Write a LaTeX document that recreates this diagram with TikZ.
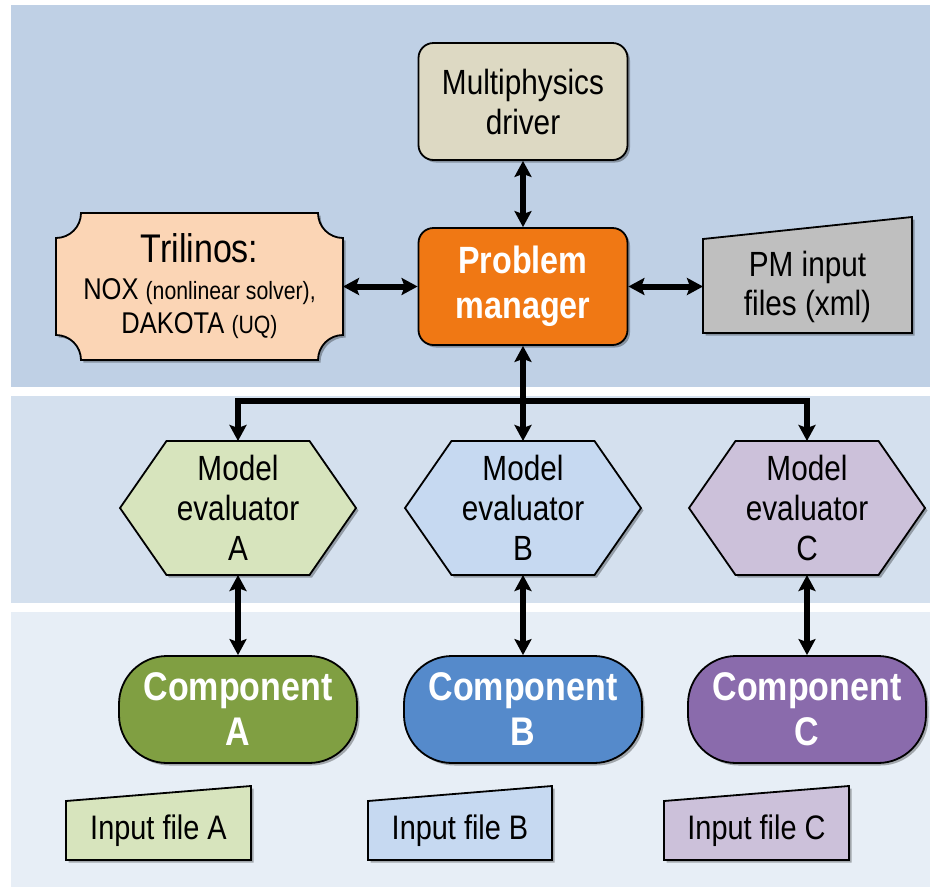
\documentclass[tikz,border=0pt]{standalone}
\usepackage{fontspec}
\setmainfont{Liberation Sans}[FakeStretch=0.85]
\usetikzlibrary{shadows,arrows.meta,calc}
\definecolor{bandA}{RGB}{191,208,229}
\definecolor{bandB}{RGB}{212,224,238}
\definecolor{bandC}{RGB}{231,238,246}
\definecolor{mdcol}{RGB}{221,217,195}
\definecolor{pmcol}{RGB}{240,120,20}
\definecolor{tricol}{RGB}{251,213,181}
\definecolor{pmincol}{RGB}{191,191,191}
\definecolor{lgreen}{RGB}{215,228,189}
\definecolor{lblue}{RGB}{198,217,241}
\definecolor{lpurple}{RGB}{204,193,218}
\definecolor{dgreen}{RGB}{128,159,66}
\definecolor{dblue}{RGB}{85,138,203}
\definecolor{dpurple}{RGB}{138,107,172}
\newcommand\hexpoly[3]{%
  \path[fill=#3, draw=black, line width=1.8pt, myshadow]
    (#1-118,#2) -- (#1-71.5,#2-67) -- (#1+71.5,#2-67) -- (#1+118,#2)
    -- (#1+71.5,#2+67) -- (#1-71.5,#2+67) -- cycle;}
\newcommand\infile[3]{%
  \path[fill=#3, draw=black, line width=1.8pt, myshadow]
    (#1,801) -- (#2,786) -- (#2,860) -- (#1,860) -- cycle;}
\begin{document}
\begin{tikzpicture}[x=1pt,y=-1pt,
  myshadow/.style={drop shadow={shadow xshift=2.5pt,shadow yshift=-2.5pt,opacity=0.3,fill=black}},
  box/.style={draw=black, line width=1.8pt, rounded corners=15pt, minimum width=209pt,
    minimum height=117pt, align=center, inner sep=0pt, myshadow},
  plain/.style={align=center, inner sep=0pt, outer sep=0pt},
  hextext/.style={plain, minimum width=236pt, minimum height=134pt, font=\fontsize{35}{40}\selectfont},
  comp/.style={draw=black, line width=1.8pt, rounded corners=48pt, minimum width=238pt,
    minimum height=107pt, align=center, inner sep=0pt, text=white,
    font=\fontsize{40}{45}\selectfont\bfseries, myshadow},
  filetext/.style={plain, minimum height=59pt, font=\fontsize{34}{40}\selectfont},
  tip/.tip={Stealth[length=16pt,width=17pt,inset=3pt]},
  darr/.style={line width=6pt, tip-tip},
  sarr/.style={line width=6pt, -tip}
]
\useasboundingbox (0,0) rectangle (930,887);
% bands
\fill[bandA] (11,5) rectangle (930,387);
\fill[bandB] (11,396) rectangle (930,603);
\fill[bandC] (11,612) rectangle (930,887);

% multiphysics driver
\node[box, fill=mdcol, font=\fontsize{35}{40}\selectfont] (md) at (523,101.5) {Multiphysics\\driver};
% problem manager
\node[box, fill=pmcol, text=white, font=\fontsize{38}{45}\selectfont\bfseries] (pm) at (523,286.5) {Problem\\manager};

% Trilinos plaque
\path[fill=tricol, draw=black, line width=1.8pt, myshadow]
  (81,213) -- (318,213) .. controls (318,226.8) and (329.2,238) .. (343,238)
  -- (343,335) .. controls (329.2,335) and (318,346.2) .. (318,360)
  -- (81,360) .. controls (81,346.2) and (69.8,335) .. (56,335)
  -- (56,238) .. controls (69.8,238) and (81,226.8) .. (81,213) -- cycle;
\node[plain, minimum width=287pt, minimum height=147pt, font=\fontsize{30}{34}\selectfont] (tri) at (199.5,286.5)
  {{\fontsize{40}{44}\selectfont Trilinos:}\\[3pt]
   NOX {\fontsize{25}{30}\selectfont (nonlinear solver),}\\
   DAKOTA {\fontsize{25}{30}\selectfont (UQ)}};

% PM input files
\path[fill=pmincol, draw=black, line width=1.8pt, myshadow]
  (703,239) -- (912,217) -- (912,333) -- (703,333) -- cycle;
\node[plain, minimum width=209pt, minimum height=93pt, font=\fontsize{35}{39}\selectfont] (pmin) at (807.5,286.5)
  {PM input\\files (xml)};

% model evaluators
\hexpoly{238}{508}{lgreen}
\hexpoly{523}{508}{lblue}
\hexpoly{807}{508}{lpurple}
\node[hextext] (meA) at (238,508) {Model\\evaluator\\A};
\node[hextext] (meB) at (523,508) {Model\\evaluator\\B};
\node[hextext] (meC) at (807,508) {Model\\evaluator\\C};

% components
\node[comp, fill=dgreen] (cA) at (238,709.5) {Component\\A};
\node[comp, fill=dblue] (cB) at (523,709.5) {Component\\B};
\node[comp, fill=dpurple] (cC) at (807,709.5) {Component\\C};

% input files
\infile{66}{251}{lgreen}
\infile{368}{552}{lblue}
\infile{664}{849}{lpurple}
\node[filetext, minimum width=185pt] (fA) at (158.5,830.5) {Input file A};
\node[filetext, minimum width=184pt] (fB) at (460,830.5) {Input file B};
\node[filetext, minimum width=185pt] (fC) at (756.5,830.5) {Input file C};

% connectors
\draw[darr] (md) -- (pm);
\draw[darr] (tri) -- (pm);
\draw[darr] (pm) -- (pmin);
\coordinate (bus) at (523,401);
\draw[sarr] (bus) -- (pm.south);
\draw[sarr] (bus) -- (meB.north);
\draw[sarr] (bus) -| (meA.north);
\draw[sarr] (bus) -| (meC.north);
\draw[darr] (meA) -- (cA);
\draw[darr] (meB) -- (cB);
\draw[darr] (meC) -- (cC);
\end{tikzpicture}
\end{document}
